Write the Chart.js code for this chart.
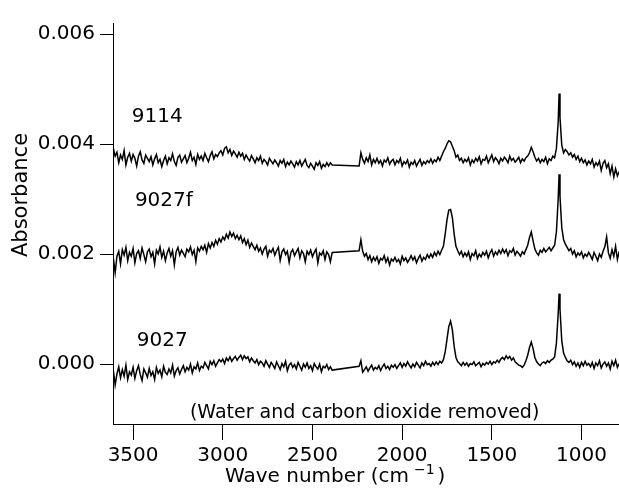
<!DOCTYPE html>
<html>
<head>
<meta charset="utf-8">
<script src="https://cdn.jsdelivr.net/npm/chart.js@4/dist/chart.umd.min.js"></script>
<style>
  html, body { margin: 0; padding: 0; background: #ffffff; }
  #wrap { width: 619px; height: 493px; position: relative; }
</style>
</head>
<body>
<div id="wrap"><canvas id="c" width="619" height="493"></canvas></div>
<script>
// Wave numbers (cm^-1); the 2390-2240 region (CO2) is bridged by a straight line
const wavenumber = [
3610,3600,3590,3580,3570,3560,3550,3540,3530,3520,
3510,3500,3490,3480,3470,3460,3450,3440,3430,3420,
3410,3400,3390,3380,3370,3360,3350,3340,3330,3320,
3310,3300,3290,3280,3270,3260,3250,3240,3230,3220,
3210,3200,3190,3180,3170,3160,3150,3140,3130,3120,
3110,3100,3090,3080,3070,3060,3050,3040,3030,3020,
3010,3000,2990,2980,2970,2960,2950,2940,2930,2920,
2910,2900,2890,2880,2870,2860,2850,2840,2830,2820,
2810,2800,2790,2780,2770,2760,2750,2740,2730,2720,
2710,2700,2690,2680,2670,2660,2650,2640,2630,2620,
2610,2600,2590,2580,2570,2560,2550,2540,2530,2520,
2510,2500,2490,2480,2470,2460,2450,2440,2430,2420,
2410,2400,2390,
2240,2230,2220,2210,2200,2190,2180,2170,2160,2150,
2140,2130,2120,2110,2100,2090,2080,2070,2060,2050,
2040,2030,2020,2010,2000,1990,1980,1970,1960,1950,
1940,1930,1920,1910,1900,1890,1880,1870,1860,1850,
1840,1830,1820,1810,1800,1790,1780,1770,1760,1750,
1740,1730,1720,1710,1700,1690,1680,1670,1660,1650,
1640,1630,1620,1610,1600,1590,1580,1570,1560,1550,
1540,1530,1520,1510,1500,1490,1480,1470,1460,1450,
1440,1430,1420,1410,1400,1390,1380,1370,1360,1350,
1340,1330,1320,1310,1300,1290,1280,1270,1260,1250,
1240,1230,1220,1210,1200,1190,1180,1170,1160,1150,
1140,1130,1125,1120,1110,1100,1090,1080,1070,1060,
1050,1040,1030,1020,1010,1000,990,980,970,960,
950,940,930,920,910,900,890,880,870,860,
850,840,830,820,810,800,790
];

const abs9114 = [
0.00392,0.00378,0.00385,0.00366,0.00380,0.00372,0.00388,0.00362,0.00376,0.00383,
0.00369,0.00381,0.00374,0.00360,0.00378,0.00386,0.00371,0.00365,0.00380,0.00374,
0.00368,0.00377,0.00362,0.00373,0.00381,0.00366,0.00372,0.00359,0.00370,0.00378,
0.00364,0.00375,0.00370,0.00382,0.00368,0.00361,0.00376,0.00380,0.00367,0.00373,
0.00379,0.00366,0.00374,0.00385,0.00370,0.00376,0.00363,0.00381,0.00372,0.00378,
0.00370,0.00383,0.00375,0.00368,0.00379,0.00386,0.00373,0.00381,0.00377,0.00384,
0.00388,0.00380,0.00392,0.00395,0.00384,0.00390,0.00379,0.00387,0.00382,0.00376,
0.00385,0.00378,0.00383,0.00372,0.00380,0.00374,0.00369,0.00379,0.00373,0.00366,
0.00375,0.00370,0.00378,0.00365,0.00372,0.00368,0.00362,0.00374,0.00369,0.00364,
0.00371,0.00366,0.00360,0.00370,0.00365,0.00372,0.00359,0.00367,0.00362,0.00369,
0.00364,0.00358,0.00368,0.00362,0.00370,0.00360,0.00366,0.00372,0.00361,0.00357,
0.00365,0.00360,0.00354,0.00366,0.00361,0.00368,0.00356,0.00363,0.00359,0.00366,
0.00360,0.00366,0.00362,
0.00360,0.00384,0.00372,0.00365,0.00375,0.00368,0.00380,0.00362,0.00372,0.00366,
0.00374,0.00365,0.00370,0.00360,0.00371,0.00367,0.00375,0.00363,0.00369,0.00372,
0.00362,0.00370,0.00366,0.00374,0.00360,0.00368,0.00364,0.00371,0.00358,0.00367,
0.00363,0.00370,0.00360,0.00366,0.00372,0.00361,0.00368,0.00364,0.00370,0.00366,
0.00373,0.00365,0.00371,0.00368,0.00376,0.00370,0.00378,0.00386,0.00392,0.00400,
0.00406,0.00404,0.00396,0.00388,0.00376,0.00380,0.00370,0.00374,0.00366,0.00372,
0.00368,0.00375,0.00362,0.00371,0.00366,0.00374,0.00369,0.00377,0.00364,0.00372,
0.00370,0.00378,0.00366,0.00373,0.00380,0.00368,0.00375,0.00371,0.00364,0.00374,
0.00369,0.00376,0.00372,0.00366,0.00378,0.00370,0.00374,0.00367,0.00371,0.00376,
0.00366,0.00373,0.00369,0.00375,0.00378,0.00384,0.00394,0.00386,0.00376,0.00369,
0.00374,0.00366,0.00372,0.00368,0.00376,0.00364,0.00373,0.00370,0.00378,0.00375,
0.00392,0.00440,0.00492,0.00448,0.00398,0.00384,0.00390,0.00386,0.00380,0.00384,
0.00376,0.00381,0.00372,0.00378,0.00368,0.00374,0.00366,0.00371,0.00362,0.00369,
0.00364,0.00372,0.00358,0.00366,0.00361,0.00369,0.00352,0.00365,0.00370,0.00357,
0.00364,0.00346,0.00360,0.00340,0.00355,0.00342,0.00350
];

const abs9027f = [
0.00192,0.00166,0.00196,0.00205,0.00182,0.00208,0.00198,0.00212,0.00188,0.00203,
0.00196,0.00210,0.00184,0.00201,0.00206,0.00192,0.00211,0.00199,0.00186,0.00204,
0.00209,0.00195,0.00203,0.00182,0.00207,0.00200,0.00213,0.00194,0.00205,0.00188,
0.00202,0.00210,0.00196,0.00206,0.00180,0.00204,0.00212,0.00198,0.00207,0.00201,
0.00195,0.00209,0.00204,0.00213,0.00199,0.00207,0.00186,0.00211,0.00205,0.00214,
0.00208,0.00216,0.00203,0.00219,0.00211,0.00221,0.00214,0.00225,0.00218,0.00228,
0.00222,0.00231,0.00226,0.00236,0.00229,0.00240,0.00232,0.00238,0.00228,0.00234,
0.00226,0.00233,0.00221,0.00228,0.00217,0.00225,0.00212,0.00220,0.00214,0.00208,
0.00216,0.00205,0.00211,0.00200,0.00209,0.00214,0.00196,0.00207,0.00203,0.00210,
0.00198,0.00206,0.00212,0.00188,0.00204,0.00209,0.00199,0.00205,0.00185,0.00203,
0.00208,0.00197,0.00204,0.00210,0.00193,0.00206,0.00201,0.00186,0.00205,0.00199,
0.00207,0.00195,0.00203,0.00209,0.00184,0.00202,0.00198,0.00206,0.00190,0.00204,
0.00199,0.00186,0.00203,
0.00206,0.00226,0.00205,0.00196,0.00201,0.00190,0.00197,0.00186,0.00194,0.00188,
0.00195,0.00183,0.00192,0.00189,0.00197,0.00185,0.00193,0.00180,0.00191,0.00187,
0.00194,0.00186,0.00190,0.00182,0.00196,0.00188,0.00193,0.00185,0.00190,0.00197,
0.00189,0.00195,0.00184,0.00192,0.00198,0.00187,0.00194,0.00190,0.00199,0.00193,
0.00200,0.00194,0.00203,0.00197,0.00205,0.00199,0.00207,0.00214,0.00236,0.00262,
0.00280,0.00281,0.00266,0.00236,0.00214,0.00206,0.00199,0.00205,0.00195,0.00202,
0.00196,0.00204,0.00190,0.00201,0.00197,0.00206,0.00192,0.00200,0.00195,0.00203,
0.00198,0.00205,0.00193,0.00202,0.00208,0.00196,0.00204,0.00199,0.00207,0.00201,
0.00209,0.00202,0.00208,0.00197,0.00206,0.00203,0.00210,0.00198,0.00205,0.00201,
0.00196,0.00204,0.00200,0.00208,0.00216,0.00230,0.00240,0.00224,0.00209,0.00202,
0.00198,0.00207,0.00203,0.00210,0.00204,0.00208,0.00212,0.00206,0.00211,0.00216,
0.00240,0.00300,0.00345,0.00305,0.00248,0.00226,0.00218,0.00212,0.00206,0.00210,
0.00200,0.00206,0.00195,0.00202,0.00198,0.00204,0.00193,0.00200,0.00196,0.00203,
0.00197,0.00190,0.00203,0.00196,0.00188,0.00200,0.00194,0.00205,0.00213,0.00231,
0.00202,0.00192,0.00208,0.00196,0.00214,0.00190,0.00205
];

const abs9027 = [
-0.00012,-0.00038,-0.00018,-0.00005,-0.00025,-0.00010,-0.00022,-0.00002,-0.00028,-0.00014,
-0.00020,-0.00006,-0.00026,-0.00012,-0.00003,-0.00019,-0.00030,-0.00009,-0.00016,-0.00024,
-0.00008,-0.00021,-0.00014,-0.00028,-0.00006,-0.00017,-0.00011,-0.00023,-0.00004,-0.00015,
-0.00019,-0.00009,-0.00016,-0.00002,-0.00022,-0.00012,-0.00007,-0.00018,-0.00010,-0.00003,
-0.00014,-0.00006,-0.00011,0.00000,-0.00016,-0.00005,-0.00009,0.00002,-0.00012,-0.00004,
-0.00007,0.00003,-0.00003,-0.00009,0.00005,-0.00001,0.00006,-0.00004,0.00002,0.00008,
0.00004,0.00009,0.00001,0.00011,0.00006,0.00013,0.00005,0.00010,0.00014,0.00007,
0.00012,0.00016,0.00008,0.00015,0.00010,0.00013,0.00004,0.00011,0.00006,0.00002,
0.00008,-0.00001,0.00005,0.00002,-0.00004,0.00006,0.00000,-0.00006,0.00003,-0.00002,
-0.00008,0.00004,-0.00003,-0.00010,0.00001,-0.00005,0.00005,-0.00012,-0.00002,0.00002,
-0.00006,-0.00001,-0.00009,0.00003,-0.00004,-0.00011,0.00000,-0.00006,0.00002,-0.00008,
-0.00003,-0.00012,0.00001,-0.00005,-0.00009,0.00000,-0.00014,-0.00004,-0.00007,-0.00001,
-0.00010,-0.00005,-0.00011,
-0.00004,0.00006,-0.00015,-0.00010,-0.00005,-0.00013,-0.00007,-0.00002,-0.00011,-0.00006,
-0.00009,-0.00003,-0.00012,-0.00005,0.00000,-0.00008,-0.00004,-0.00010,-0.00002,-0.00006,
-0.00001,-0.00008,-0.00003,0.00002,-0.00006,0.00001,-0.00004,0.00004,-0.00002,-0.00007,
0.00000,-0.00005,0.00003,-0.00002,-0.00007,0.00002,-0.00003,0.00005,-0.00001,0.00001,
-0.00004,0.00003,-0.00002,0.00004,-0.00001,0.00005,0.00002,0.00008,0.00022,0.00045,
0.00068,0.00078,0.00062,0.00032,0.00012,0.00004,0.00001,-0.00003,0.00003,-0.00002,
0.00002,-0.00004,0.00001,-0.00001,0.00004,-0.00003,0.00000,0.00003,-0.00005,0.00001,
-0.00002,0.00003,0.00000,0.00005,-0.00001,0.00004,0.00002,0.00007,0.00003,0.00009,
0.00012,0.00008,0.00015,0.00010,0.00014,0.00007,0.00011,0.00004,0.00001,-0.00002,
-0.00003,-0.00006,-0.00002,0.00006,0.00016,0.00030,0.00040,0.00028,0.00012,0.00004,
0.00000,-0.00003,0.00002,0.00004,0.00001,0.00006,0.00003,0.00007,0.00009,0.00013,
0.00038,0.00092,0.00128,0.00100,0.00042,0.00020,0.00012,0.00006,0.00003,0.00007,
-0.00001,0.00004,-0.00004,0.00002,-0.00006,0.00003,-0.00003,0.00005,-0.00002,0.00001,
-0.00005,0.00003,-0.00008,0.00002,-0.00003,0.00006,-0.00007,0.00000,0.00004,-0.00004,
0.00002,-0.00009,0.00005,-0.00003,0.00007,-0.00006,0.00001
];

const seriesNames = ['9114', '9027f', '9027'];
const seriesValues = [abs9114, abs9027f, abs9027];
// Label anchor positions, in data units (wave number, absorbance)
const labelWave = [3507, 3490, 3479];
const labelAbs = [0.00449, 0.00296, 0.00042];

const xTicks = [3500, 3000, 2500, 2000, 1500, 1000];
const yTicks = [0.000, 0.002, 0.004, 0.006];
const xRange = [791, 3612];
const yRange = [-0.00109, 0.0062];

const noteText = '(Water and carbon dioxide removed)';
const noteWave = 3183, noteAbs = -0.00089;

const FONT = '"DejaVu Sans", sans-serif';

const textPlugin = {
  id: 'texts',
  afterDraw(chart) {
    const ctx = chart.ctx;
    const xs = chart.scales.x, ys = chart.scales.y;
    ctx.save();
    ctx.fillStyle = '#000';
    ctx.textBaseline = 'middle';
    ctx.textAlign = 'left';
    ctx.font = '20px ' + FONT;
    seriesNames.forEach((n, i) => {
      ctx.fillText(n, xs.getPixelForValue(labelWave[i]), ys.getPixelForValue(labelAbs[i]));
    });
    ctx.font = '19px ' + FONT;
    ctx.fillText(noteText, xs.getPixelForValue(noteWave), ys.getPixelForValue(noteAbs));

    // y title
    ctx.save();
    ctx.translate(22, 195);
    ctx.rotate(-Math.PI / 2);
    ctx.textAlign = 'center';
    ctx.font = '21px ' + FONT;
    ctx.fillText('Absorbance', 0, 0);
    ctx.restore();

    // x title with superscript
    ctx.textBaseline = 'alphabetic';
    ctx.textAlign = 'left';
    let x = 225, base = 482;
    ctx.font = '20px ' + FONT;
    const t1 = 'Wave number (cm';
    ctx.fillText(t1, x, base);
    x += ctx.measureText(t1).width + 5;
    ctx.font = '14px ' + FONT;
    const sup = '\u2212' + '1';
    ctx.fillText(sup, x, base - 8);
    x += ctx.measureText(sup).width + 3;
    ctx.font = '20px ' + FONT;
    ctx.fillText(')', x, base);
    ctx.restore();
  }
};

const datasets = seriesNames.map((n, i) => ({
  label: n,
  data: wavenumber.map((w, j) => ({ x: w, y: seriesValues[i][j] })),
  borderColor: '#000',
  borderWidth: 1.5,
  pointRadius: 0,
  tension: 0,
  fill: false
}));

new Chart(document.getElementById('c'), {
  type: 'line',
  data: { datasets },
  options: {
    responsive: false,
    animation: false,
    devicePixelRatio: 1,
    layout: { padding: { top: 23, right: 0, left: 0, bottom: 0 } },
    plugins: { legend: { display: false }, tooltip: { enabled: false } },
    scales: {
      x: {
        type: 'linear',
        reverse: true,
        min: xRange[0],
        max: xRange[1],
        afterBuildTicks: (s) => { s.ticks = xTicks.map(v => ({ value: v })); },
        afterFit: (s) => { s.height = 69; },
        grid: { drawOnChartArea: false, drawTicks: true, tickLength: 16, tickColor: '#000', tickWidth: 1 },
        border: { display: true, color: '#000', width: 1 },
        ticks: { color: '#000', font: { family: FONT, size: 20 }, padding: 4, maxRotation: 0, autoSkip: false,
                 callback: (v) => String(v) }
      },
      y: {
        type: 'linear',
        min: yRange[0],
        max: yRange[1],
        afterBuildTicks: (s) => { s.ticks = yTicks.map(v => ({ value: v })); },
        afterFit: (s) => { s.width = 113; },
        grid: { drawOnChartArea: false, drawTicks: true, tickLength: 13, tickColor: '#000', tickWidth: 1 },
        border: { display: true, color: '#000', width: 1 },
        ticks: { color: '#000', font: { family: FONT, size: 20 }, padding: 5, autoSkip: false,
                 callback: (v) => v.toFixed(3) }
      }
    }
  },
  plugins: [textPlugin]
});
</script>
</body>
</html>
